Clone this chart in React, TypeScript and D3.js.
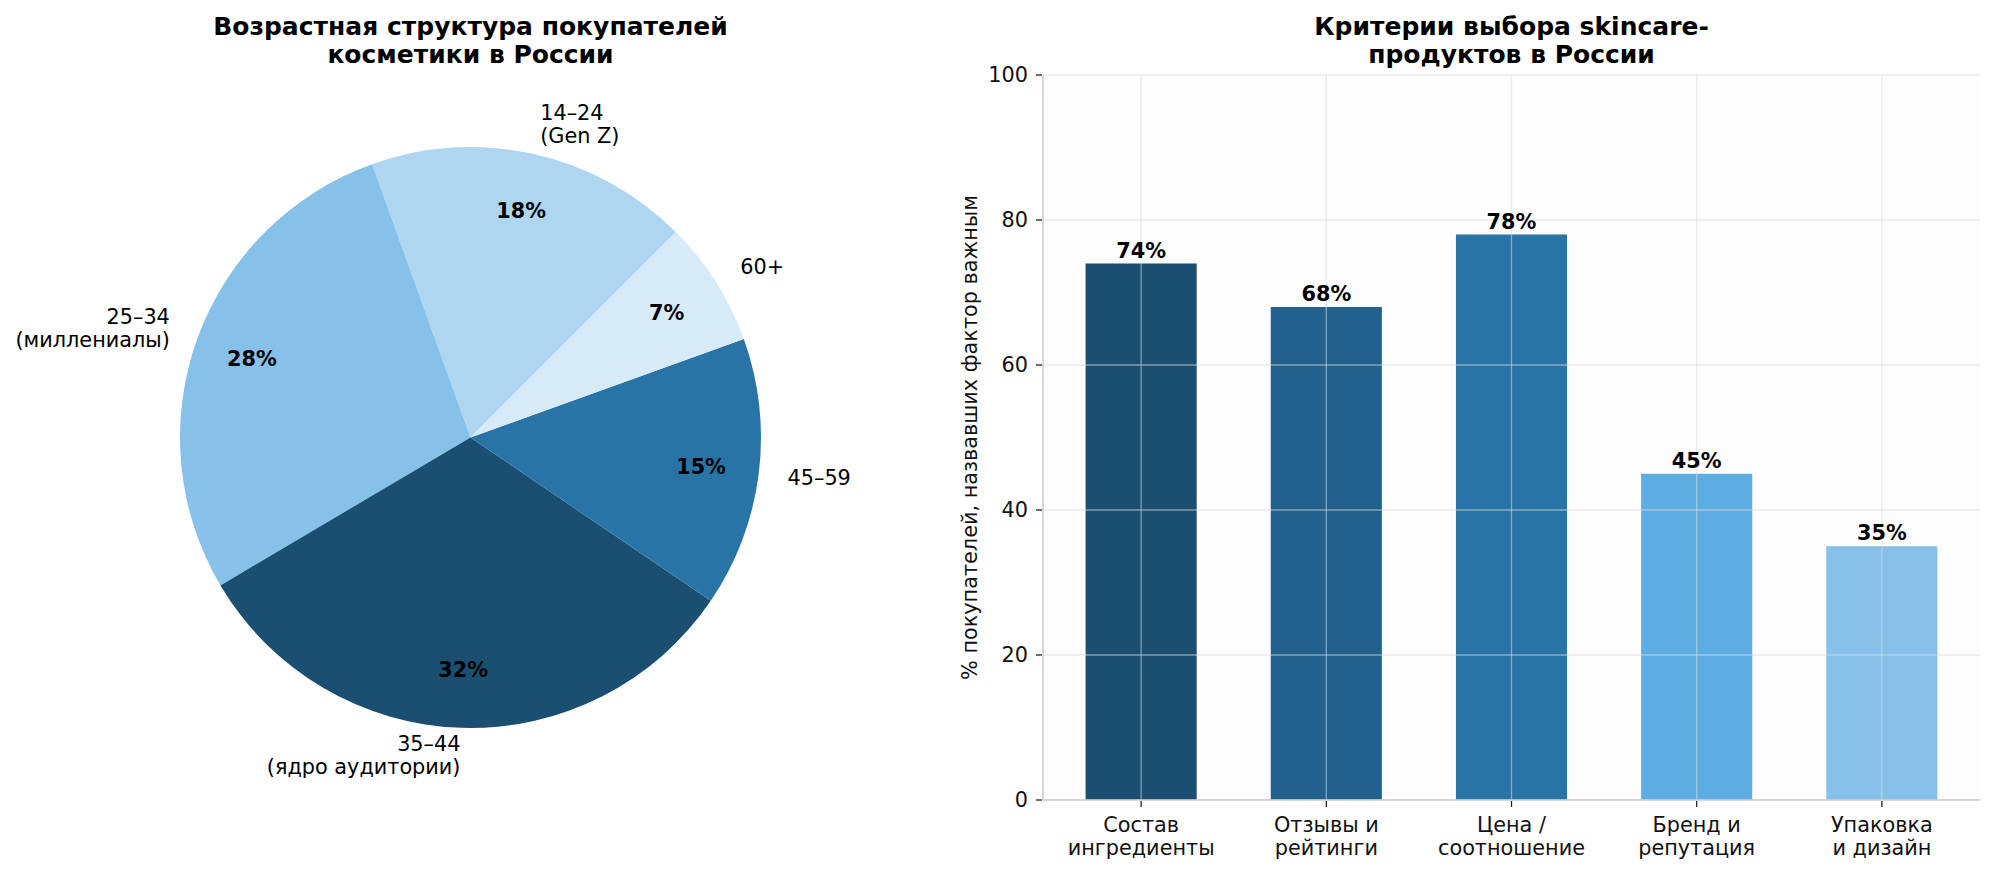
import React from "react";
import * as d3 from "d3";

// pie: age structure
const ageLabels = ["14–24\n(Gen Z)", "25–34\n(миллениалы)", "35–44\n(ядро аудитории)", "45–59", "60+"];
const ageShares = [18, 28, 32, 15, 7];
const ageColors = ["#aed6f1", "#85c1e9", "#1b4f72", "#2874a6", "#d6eaf8"];

// bars: selection criteria
const criteria = ["Состав\nингредиенты", "Отзывы и\nрейтинги", "Цена /\nсоотношение", "Бренд и\nрепутация", "Упаковка\nи дизайн"];
const criteriaValues = [74, 68, 78, 45, 35];
const barColors = ["#1b4f72", "#21618c", "#2874a6", "#5dade2", "#85c1e9"];
const yTicks = [0, 20, 40, 60, 80, 100];

const W = 1994, H = 874;
const FONT = "DejaVu Sans";
const FS = 20.8;

export default function App() {
  // pie geometry
  const cx = 470.5, cy = 437.5, R = 290.5;
  const start = Math.PI / 4; // matplotlib startangle=45, counterclockwise
  const pie = d3.pie<number>().sort(null).startAngle(start).endAngle(start - 2 * Math.PI);
  const arcs = pie(ageShares);
  const arc = d3.arc<d3.PieArcDatum<number>>().innerRadius(0).outerRadius(R);

  // bar geometry
  const x = d3.scaleLinear().domain([-0.53, 4.53]).range([1043, 1980]);
  const y = d3.scaleLinear().domain([0, 100]).range([800, 75]);
  const bw = x(0.6) - x(0);

  return (
    <svg width={W} height={H} style={{ position: "absolute", left: 0, top: 0, background: "#fff" }} fontFamily={FONT}>
      {/* ---- pie ---- */}
      <text x={cx} y={35} textAnchor="middle" fontSize={25} fontWeight="bold">Возрастная структура покупателей</text>
      <text x={cx} y={63} textAnchor="middle" fontSize={25} fontWeight="bold">косметики в России</text>
      <g transform={`translate(${cx},${cy})`}>
        {arcs.map((a, i) => (
          <path key={i} d={arc(a) || ""} fill={ageColors[i]} />
        ))}
        {arcs.map((a, i) => {
          const m = (a.startAngle + a.endAngle) / 2;
          const px = Math.sin(m) * R * 0.8, py = -Math.cos(m) * R * 0.8;
          return (
            <text key={"p" + i} x={px} y={py} dy="0.36em" textAnchor="middle" fontSize={FS} fontWeight="bold">
              {ageShares[i]}%
            </text>
          );
        })}
        {arcs.map((a, i) => {
          const m = (a.startAngle + a.endAngle) / 2;
          const lx = Math.sin(m) * R * 1.1, ly = -Math.cos(m) * R * 1.1;
          const lines = ageLabels[i].split("\n");
          const anchor = lx < 0 ? "end" : "start";
          if (lines.length === 1) {
            return (
              <text key={"l" + i} x={lx} y={ly} dy="0.36em" textAnchor={anchor} fontSize={FS}>{lines[0]}</text>
            );
          }
          return (
            <text key={"l" + i} textAnchor={anchor} fontSize={FS}>
              <tspan x={lx} y={ly - 5.5}>{lines[0]}</tspan>
              <tspan x={lx} y={ly + 17.5}>{lines[1]}</tspan>
            </text>
          );
        })}
      </g>

      {/* ---- bars ---- */}
      <text x={1511.5} y={35} textAnchor="middle" fontSize={25} fontWeight="bold">Критерии выбора skincare-</text>
      <text x={1511.5} y={63} textAnchor="middle" fontSize={25} fontWeight="bold">продуктов в России</text>
      <rect x={1043} y={75} width={937} height={725} fill="#fdfdfd" />
      {criteriaValues.map((v, i) => (
        <rect key={i} x={x(i) - bw / 2} y={y(v)} width={bw} height={y(0) - y(v)} fill={barColors[i]} />
      ))}
      {/* grid on top */}
      <g stroke="#dddddd" strokeOpacity={0.55} strokeWidth={1.3}>
        {yTicks.map(t => (
          <line key={t} x1={1043} x2={1980} y1={y(t)} y2={y(t)} />
        ))}
        {criteria.map((_, i) => (
          <line key={i} x1={x(i)} x2={x(i)} y1={75} y2={800} />
        ))}
      </g>
      {criteriaValues.map((v, i) => (
        <text key={i} x={x(i)} y={y(v) - 6} textAnchor="middle" fontSize={FS} fontWeight="bold">{v}%</text>
      ))}
      {/* spines */}
      <line x1={1043} x2={1043} y1={75} y2={800} stroke="#cccccc" strokeWidth={1.6} />
      <line x1={1043} x2={1980} y1={800} y2={800} stroke="#cccccc" strokeWidth={1.6} />
      {/* y ticks */}
      {yTicks.map(t => (
        <g key={t}>
          <line x1={1036} x2={1042} y1={y(t)} y2={y(t)} stroke="#222" strokeWidth={1.3} />
          <text x={1028} y={y(t)} dy="0.36em" textAnchor="end" fontSize={FS} fill="#111">{t}</text>
        </g>
      ))}
      {/* x ticks */}
      {criteria.map((c, i) => {
        const lines = c.split("\n");
        return (
          <g key={i}>
            <line x1={x(i)} x2={x(i)} y1={801} y2={807} stroke="#222" strokeWidth={1.3} />
            <text textAnchor="middle" fontSize={FS} fill="#111">
              <tspan x={x(i)} y={832}>{lines[0]}</tspan>
              <tspan x={x(i)} y={855}>{lines[1]}</tspan>
            </text>
          </g>
        );
      })}
      <text transform={`translate(977,437.5) rotate(-90)`} textAnchor="middle" fontSize={FS} fill="#111">
        % покупателей, назвавших фактор важным
      </text>
    </svg>
  );
}
